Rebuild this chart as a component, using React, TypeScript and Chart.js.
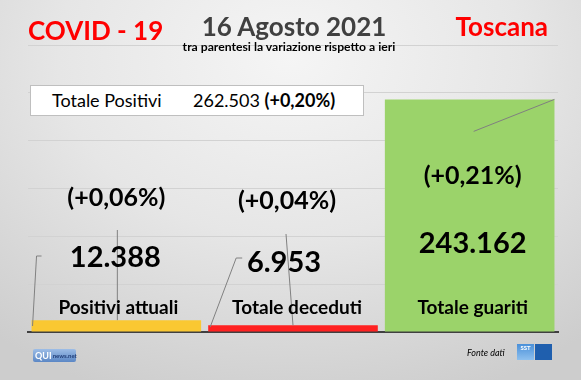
import React, { useEffect, useRef } from "react";
import { Chart, registerables } from "chart.js";

Chart.register(...registerables);

// ---- data ----
const categories = ["Positivi attuali", "Totale deceduti", "Totale guariti"];
const values = [12388, 6953, 243162];
const changes = ["(+0,06%)", "(+0,04%)", "(+0,21%)"];
const barColors = ["#FAC832", "#FF2121", "#9BD36A"];
const totalLabel = "Totale Positivi";
const totalValue = 262503;
const totalChange = "(+0,20%)";
const yMax = 300000;
const yStep = 50000;
const headerLeft = "COVID - 19";
const headerCenter = "16 Agosto 2021";
const headerRight = "Toscana";
const subtitle = "tra parentesi la variazione rispetto a ieri";
const sourceText = "Fonte dati";

const fmt = (n: number) => String(n).replace(/\B(?=(\d{3})+(?!\d))/g, ".");

// label placement (pixels measured from the x axis / bar centre)
const labelLayout = [
  { valDx: -1, valUp: 65, pctDx: 0, pctUp: 126, catDx: 2 },
  { valDx: -9, valUp: 60, pctDx: -6, pctUp: 123, catDx: 4 },
  { valDx: 3, valUp: 79, pctDx: 3, pctUp: 148, catDx: 3 },
];
const FONT = "Lato, 'Open Sans', sans-serif";

const labelsPlugin = {
  id: "customLabels",
  afterDatasetsDraw(chart: any) {
    const { ctx, chartArea } = chart;
    const meta = chart.getDatasetMeta(0);
    const bottom = chartArea.bottom;
    ctx.save();
    // leader lines
    ctx.strokeStyle = "#808080";
    ctx.lineWidth = 1;
    meta.data.forEach((bar: any, i: number) => {
      const left = bar.x - bar.width / 2;
      const right = bar.x + bar.width / 2;
      ctx.beginPath();
      if (i === 0) {
        ctx.moveTo(left + 1, bottom - 6);
        ctx.lineTo(left + 5, bottom - 76);
        ctx.lineTo(left + 10, bottom - 76);
        ctx.moveTo(bar.x + 1, bar.y);
        ctx.lineTo(bar.x + 1, bottom - 102);
      } else if (i === 1) {
        ctx.moveTo(left + 2, bottom - 5);
        ctx.lineTo(left + 28, bottom - 74);
        ctx.lineTo(left + 34, bottom - 74);
        ctx.moveTo(bar.x, bar.y);
        ctx.lineTo(bar.x - 7, bottom - 98);
      } else {
        ctx.moveTo(right, bar.y);
        ctx.lineTo(bar.x + 4, bar.y + 32);
      }
      ctx.stroke();
    });
    // texts
    ctx.fillStyle = "#000";
    ctx.textAlign = "center";
    ctx.textBaseline = "alphabetic";
    meta.data.forEach((bar: any, i: number) => {
      const L = labelLayout[i];
      ctx.font = `bold 19px ${FONT}`;
      ctx.fillText(categories[i], bar.x + L.catDx, bottom - 18);
      ctx.font = `bold 29px ${FONT}`;
      ctx.fillText(fmt(values[i]), bar.x + L.valDx, bottom - L.valUp);
      ctx.font = `bold 25px ${FONT}`;
      ctx.fillText(changes[i], bar.x + L.pctDx, bottom - L.pctUp);
    });
    ctx.restore();
  },
};

export default function App() {
  const ref = useRef<HTMLCanvasElement>(null);
  useEffect(() => {
    if (!ref.current) return;
    const chart = new Chart(ref.current, {
      type: "bar",
      data: {
        labels: categories,
        datasets: [
          {
            data: values,
            backgroundColor: barColors,
            borderWidth: 0,
            barPercentage: 0.96,
            categoryPercentage: 1.0,
          },
        ],
      },
      options: {
        animation: false,
        responsive: false,
        maintainAspectRatio: false,
        layout: { padding: { left: 28, right: 23, top: 45, bottom: 48 } },
        plugins: {
          legend: { display: false },
          tooltip: { enabled: false },
          title: { display: false },
        },
        scales: {
          x: {
            grid: { display: false, drawTicks: false },
            ticks: { display: false },
            border: { display: true, color: "#404040", width: 2 },
          },
          y: {
            min: 0,
            max: yMax,
            ticks: { display: false, stepSize: yStep },
            grid: { color: "#d2d2d2", lineWidth: 1, drawTicks: false },
            border: { display: false },
          },
        },
      },
      plugins: [labelsPlugin],
    });
    return () => chart.destroy();
  }, []);

  const abs = (s: any) => ({ position: "absolute" as const, whiteSpace: "nowrap" as const, lineHeight: 1.2, ...s });

  return (
    <div
      style={{
        position: "fixed",
        left: 0,
        top: 0,
        width: 581,
        height: 380,
        overflow: "hidden",
        fontFamily: FONT,
        background:
          "radial-gradient(ellipse 80% 95% at 50% 15%, #f5f5f5 0%, #e6e6e6 50%, #cdcdcd 100%)",
      }}
    >
      <canvas ref={ref} width={581} height={380} style={{ position: "absolute", left: 0, top: 0 }} />
      <div style={abs({ left: 28, top: 15, fontSize: 26, fontWeight: 700, color: "#ff0000" })}>{headerLeft}</div>
      <div style={abs({ left: 294, top: 11, fontSize: 26, fontWeight: 700, color: "#404040", transform: "translateX(-50%)" })}>
        {headerCenter}
      </div>
      <div style={abs({ right: 33, top: 11, fontSize: 26, fontWeight: 700, color: "#ff0000" })}>{headerRight}</div>
      <div style={abs({ left: 289, top: 40, fontSize: 12.2, fontWeight: 700, color: "#000", transform: "translateX(-50%)" })}>
        {subtitle}
      </div>
      <div
        style={{
          position: "absolute",
          left: 30,
          top: 85,
          width: 332,
          height: 29,
          background: "#fff",
          border: "1px solid #bfbfbf",
        }}
      />
      <div style={abs({ left: 52, top: 89.5, fontSize: 18, color: "#000" })}>{totalLabel}</div>
      <div style={abs({ left: 193, top: 89.5, fontSize: 18, color: "#000" })}>
        {fmt(totalValue)} <b>{totalChange}</b>
      </div>
      {/* footer logos */}
      <div
        style={{
          position: "absolute",
          left: 33,
          top: 349,
          width: 43,
          height: 13,
          borderRadius: 2,
          background: "linear-gradient(#9dbde6, #5b87c5)",
          display: "flex",
          alignItems: "center",
          paddingLeft: 2,
          boxSizing: "border-box",
          fontSize: 9,
          fontWeight: 700,
          color: "#fff",
          lineHeight: 1,
        }}
      >
        QUI<span style={{ fontSize: 6, color: "#23407a", marginLeft: 1 }}>news.net</span>
      </div>
      <div style={abs({ left: 467, top: 348, fontSize: 9, fontStyle: "italic", color: "#000" })}>{sourceText}</div>
      <div
        style={{
          position: "absolute",
          left: 517,
          top: 344,
          width: 17,
          height: 16,
          background: "linear-gradient(#4a90d9, #8ec0ee)",
          color: "#fff",
          fontSize: 6,
          fontWeight: 700,
          textAlign: "center",
          lineHeight: "8px",
        }}
      >
        SST
      </div>
      <div style={{ position: "absolute", left: 535, top: 344, width: 17, height: 16, background: "#1f5fae" }} />
    </div>
  );
}
